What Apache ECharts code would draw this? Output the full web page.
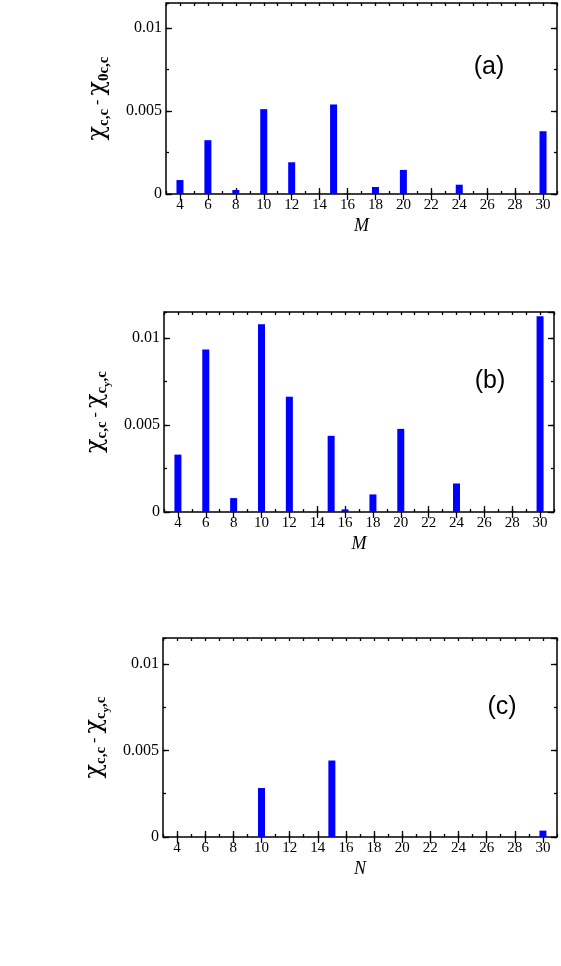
<!DOCTYPE html>
<html>
<head>
<meta charset="utf-8">
<script src="https://cdn.jsdelivr.net/npm/echarts@6/dist/echarts.min.js"></script>
<style>
  html, body { margin: 0; padding: 0; background: #fff; }
  #main { width: 561px; height: 966px; }
</style>
</head>
<body>
<div id="main"></div>
<script>
// x tick positions (only the even ones get a label + long tick)
var xTicks = ['3','4','5','6','7','8','9','10','11','12','13','14','15','16','17',
              '18','19','20','21','22','23','24','25','26','27','28','29','30','31'];

// panel (a)
var sizesA = [4, 6, 8, 10, 12, 15, 16, 18, 20, 24, 30];
var diffA  = [0.00084, 0.00324, 0.00024, 0.00511, 0.00191, 0.00539, 0.00005, 0.00042, 0.00145, 0.00056, 0.00378];
// panel (b)
var sizesB = [4, 6, 8, 10, 12, 15, 16, 18, 20, 24, 28, 30];
var diffB  = [0.0033, 0.00935, 0.0008, 0.0108, 0.00663, 0.00438, 0.00015, 0.00101, 0.00478, 0.00164, 0.00004, 0.01126];
// panel (c)
var sizesC = [10, 15, 30];
var diffC  = [0.00283, 0.00442, 0.00037];

var yMax = 0.0115;

var SERIF = 'Liberation Serif';
var richName = {
  chi:  { fontFamily: 'DejaVu Serif', fontSize: 24, lineHeight: 34, verticalAlign: 'middle', color: '#000' },
  sub:  { fontFamily: SERIF, fontSize: 15, fontWeight: 'bold', lineHeight: 15, verticalAlign: 'bottom', padding: [0, 0, 3, 0], color: '#000' },
  ssub: { fontFamily: SERIF, fontSize: 11, fontWeight: 'bold', lineHeight: 11, verticalAlign: 'bottom', color: '#000' },
  op:   { fontFamily: SERIF, fontSize: 16, verticalAlign: 'middle', color: '#000' }
};

var panels = [
  { grid: { left: 166, top: 3, width: 391, height: 191 }, sizes: sizesA, vals: diffA, xName: 'M', gap: 42,
    yName: '{chi|χ}{sub|c,c}{op| - }{chi|χ}{sub|0c,c}', tag: '(a)', tagX: 489, tagY: 67 },
  { grid: { left: 164, top: 312, width: 390, height: 200 }, sizes: sizesB, vals: diffB, xName: 'M', gap: 45,
    yName: '{chi|χ}{sub|c,c}{op| - }{chi|χ}{sub|c}{ssub|y}{sub|,c}', tag: '(b)', tagX: 490, tagY: 381 },
  { grid: { left: 163, top: 638, width: 394, height: 199 }, sizes: sizesC, vals: diffC, xName: 'N', gap: 44,
    yName: '{chi|χ}{sub|c,c}{op| - }{chi|χ}{sub|c}{ssub|y}{sub|,c}', tag: '(c)', tagX: 502, tagY: 707 }
];

var grids = [], xAxes = [], yAxes = [], series = [], graphics = [];

function evenOnly(idx, val) { return (+val) % 2 === 0; }

panels.forEach(function (p, g) {
  grids.push(Object.assign({ show: true, borderColor: '#000', borderWidth: 1.5, backgroundColor: 'transparent' }, p.grid));

  var xBase = xAxes.length;
  // hidden value axis for the bars
  xAxes.push({ type: 'value', gridIndex: g, min: 3, max: 31, show: false });
  // bottom: long ticks + labels
  xAxes.push({
    type: 'category', gridIndex: g, position: 'bottom', data: xTicks, boundaryGap: false,
    axisLine: { show: false }, splitLine: { show: false },
    axisTick: { inside: true, length: 6, interval: evenOnly, lineStyle: { color: '#000', width: 1.3 } },
    axisLabel: { interval: evenOnly, margin: 4, color: '#000', fontFamily: SERIF, fontSize: 15 },
    name: p.xName, nameLocation: 'middle', nameGap: 23,
    nameTextStyle: { fontFamily: SERIF, fontStyle: 'italic', fontSize: 18, color: '#000' }
  });
  // bottom: short ticks
  xAxes.push({
    type: 'category', gridIndex: g, position: 'bottom', data: xTicks, boundaryGap: false,
    axisLine: { show: false }, axisLabel: { show: false },
    axisTick: { inside: true, length: 3, interval: 0, lineStyle: { color: '#000', width: 1.3 } }
  });
  // top mirrors
  xAxes.push({
    type: 'category', gridIndex: g, position: 'top', data: xTicks, boundaryGap: false,
    axisLine: { show: false }, axisLabel: { show: false },
    axisTick: { inside: true, length: 6, interval: evenOnly, lineStyle: { color: '#000', width: 1.3 } }
  });
  xAxes.push({
    type: 'category', gridIndex: g, position: 'top', data: xTicks, boundaryGap: false,
    axisLine: { show: false }, axisLabel: { show: false },
    axisTick: { inside: true, length: 3, interval: 0, lineStyle: { color: '#000', width: 1.3 } }
  });

  var yBase = yAxes.length;
  yAxes.push({
    type: 'value', gridIndex: g, position: 'left', min: 0, max: yMax, interval: 0.005,
    axisLine: { show: false }, splitLine: { show: false },
    axisTick: { inside: true, length: 6, lineStyle: { color: '#000', width: 1.3 } },
    axisLabel: { showMaxLabel: false, margin: 4, color: '#000', fontFamily: SERIF, fontSize: 16 },
    name: p.yName, nameLocation: 'middle', nameRotate: 90, nameGap: p.gap,
    nameTextStyle: { rich: richName }
  });
  yAxes.push({
    type: 'value', gridIndex: g, position: 'left', min: 0, max: yMax, interval: 0.0025,
    axisLine: { show: false }, splitLine: { show: false }, axisLabel: { show: false },
    axisTick: { inside: true, length: 3, lineStyle: { color: '#000', width: 1.3 } }
  });
  yAxes.push({
    type: 'value', gridIndex: g, position: 'right', min: 0, max: yMax, interval: 0.005,
    axisLine: { show: false }, splitLine: { show: false }, axisLabel: { show: false },
    axisTick: { inside: true, length: 6, lineStyle: { color: '#000', width: 1.3 } }
  });
  yAxes.push({
    type: 'value', gridIndex: g, position: 'right', min: 0, max: yMax, interval: 0.0025,
    axisLine: { show: false }, splitLine: { show: false }, axisLabel: { show: false },
    axisTick: { inside: true, length: 3, lineStyle: { color: '#000', width: 1.3 } }
  });

  series.push({
    type: 'bar', xAxisIndex: xBase, yAxisIndex: yBase, barWidth: 7,
    itemStyle: { color: '#0000ff' },
    data: p.sizes.map(function (m, i) { return [m, p.vals[i]]; })
  });

  graphics.push({
    type: 'text', x: p.tagX, y: p.tagY,
    style: { text: p.tag, fill: '#000', font: '25px "Liberation Sans"', textAlign: 'center', textVerticalAlign: 'middle' }
  });
});

var chart = echarts.init(document.getElementById('main'), null, { renderer: 'canvas' });
chart.setOption({
  animation: false,
  backgroundColor: '#fff',
  grid: grids,
  xAxis: xAxes,
  yAxis: yAxes,
  series: series,
  graphic: graphics
});
</script>
</body>
</html>
